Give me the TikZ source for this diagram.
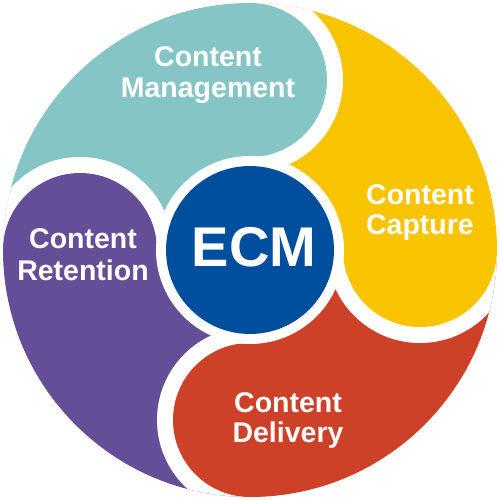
\documentclass[tikz,border=0pt]{standalone}
\usepackage{fontspec}
\setmainfont{Liberation Sans}
\definecolor{cteal}{HTML}{86C5C5}
\definecolor{cyellow}{HTML}{F8C400}
\definecolor{cred}{HTML}{CC4128}
\definecolor{cpurple}{HTML}{654E98}
\definecolor{cblue}{HTML}{004F9F}
\tikzset{
  lbl/.style={text=white, font=\bfseries\fontsize{28.5}{30}\selectfont, anchor=base, inner sep=0pt},
  big/.style={text=white, font=\bfseries\fontsize{56}{60}\selectfont, anchor=base, inner sep=0pt}
}
\begin{document}
\begin{tikzpicture}[x=1pt,y=1pt]
\useasboundingbox (-250,-250) rectangle (250,250);
\def\R{247}\def\d{170}\def\r{77}\def\rg{93}
\begin{scope}
\clip (0,0) circle (247pt);
% body wedges
\fill[cteal]   (0,0) -- (90:260pt)  arc (90:180:260pt)  -- cycle;
\fill[cyellow] (0,0) -- (0:260pt)   arc (0:90:260pt)    -- cycle;
\fill[cred]    (0,0) -- (-90:260pt) arc (-90:0:260pt)   -- cycle;
\fill[cpurple] (0,0) -- (180:260pt) arc (180:270:260pt) -- cycle;
% heads: white offset on clockwise neighbour side, then the head disc
\foreach \a/\c in {90/cteal, 0/cyellow, -90/cred, 180/cpurple}{
  \begin{scope}
    \clip (0,0) -- (\a-90:300pt) arc (\a-90:\a:300pt) -- cycle;
    \fill[white] (\a:170pt) circle (93pt);
  \end{scope}
  \fill[\c] (\a:170pt) circle (77pt);
}
\end{scope}
% centre
\fill[white] (0,0) circle (94pt);
\node[circle, fill=cblue, minimum size=168pt, inner sep=0pt] (ecm) at (0,0) {};
\node[big] (ecmt) at (4,-17) {ECM};
% labels
\node[lbl] (m1) at (-42,183) {Content};
\node[lbl] (m2) at (-42,152) {Management};
\node[lbl] (c1) at (170,45) {Content};
\node[lbl] (c2) at (170,15) {Capture};
\node[lbl] (d1) at (38,-162) {Content};
\node[lbl] (d2) at (38,-192) {Delivery};
\node[lbl] (r1) at (-167,1) {Content};
\node[lbl] (r2) at (-167,-31) {Retention};
\end{tikzpicture}
\end{document}
